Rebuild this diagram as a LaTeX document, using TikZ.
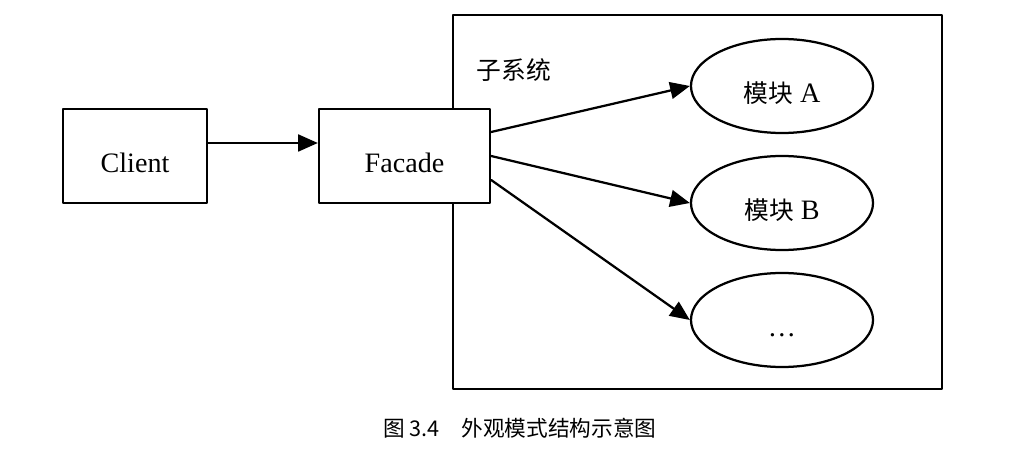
\documentclass[tikz,border=0pt]{standalone}
\usepackage{fontspec}
\setmainfont{Liberation Serif}
\newfontfamily\cjk[Scale=0.88]{Noto Sans CJK SC}
\usetikzlibrary{arrows.meta,shapes.geometric,calc}

\begin{document}
\begin{tikzpicture}[x=0.025cm, y=-0.025cm, line cap=round, line join=round,
  >={Triangle[length=14pt,width=12pt]},
  frame/.style={draw, line width=1.6pt},
  box/.style={frame, fill=white, minimum width=#1, minimum height=2.35cm,
    text height=0.8cm, text depth=0pt, font=\fontsize{20}{24}\selectfont},
  module/.style={frame, ellipse, inner sep=0pt, minimum width=4.55cm,
    minimum height=2.35cm, text height=0.8cm, text depth=0pt,
    font=\fontsize{20}{24}\selectfont},
  link/.style={->, line width=1.6pt}]
  \useasboundingbox (0,0) rectangle (1014,452);

  % Subsystem frame
  \node[frame, minimum width=12.225cm, minimum height=9.35cm] (sub) at (697.5,202) {};
  \node[font=\fontsize{20}{24}\selectfont] (subname) at (514,70) {\cjk 子系统};

  % Client and Facade
  \node[box=3.6cm] (client) at (135,156) {Client};
  \node[box=4.275cm] (facade) at (404.5,156) {Facade};

  % Modules
  \node[module] (modA) at (782,86) {{\cjk 模块} A};
  \node[module] (modB) at (782,203) {{\cjk 模块} B};
  \node[module] (modC) at (782,320) {\dots};

  % Links
  \draw[link] ($(client.east)+(0,-13)$) -- ($(facade.west)+(0,-13)$);
  \draw[link] ($(facade.east)+(0,-24)$) -- (modA.west);
  \draw[link] (facade.east) -- (modB.west);
  \draw[link] ($(facade.east)+(0,24)$) -- (modC.west);

  % Caption
  \node[font=\fontsize{17.5}{21}\selectfont\cjk] (caption) at (520,428)
    {图 3.4\quad 外观模式结构示意图};
\end{tikzpicture}
\end{document}
